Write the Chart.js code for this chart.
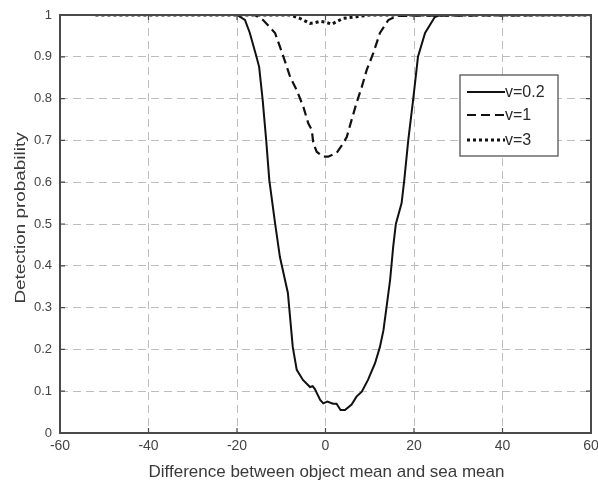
<!DOCTYPE html>
<html>
<head>
<meta charset="utf-8">
<script src="https://cdn.jsdelivr.net/npm/chart.js@4.4.1/dist/chart.umd.min.js"></script>
<style>
  html, body { margin: 0; padding: 0; background: #fff; }
  #wrap { width: 598px; height: 485px; position: relative; }
</style>
</head>
<body>
<div id="wrap"><canvas id="c" width="598" height="485"></canvas></div>
<script>
// ---- data ----
const seriesNames = ['v=0.2', 'v=1', 'v=3'];

const xV02 = [-52, -20, -19.8, -18.2, -17.1, -15.6, -15.0, -14.2, -13.4, -12.7, -11.4, -10.3, -9.8, -8.5, -8.2, -7.4, -6.5, -5.1, -3.5, -2.9, -2.4, -1.2, -0.5, 0.4, 1.7, 2.5, 3.4, 4.4, 5.9, 7.0, 8.2, 9.6, 11.2, 12.3, 13.1, 13.8, 14.6, 15.3, 15.9, 17.2, 17.8, 18.7, 19.8, 20.9, 22.5, 24.7, 26, 60];
const yV02 = [1, 1, 1.0, 0.988, 0.957, 0.90, 0.876, 0.797, 0.70, 0.605, 0.502, 0.421, 0.397, 0.335, 0.30, 0.206, 0.151, 0.127, 0.11, 0.112, 0.105, 0.079, 0.071, 0.075, 0.07, 0.07, 0.055, 0.055, 0.068, 0.087, 0.099, 0.127, 0.167, 0.206, 0.246, 0.302, 0.366, 0.446, 0.50, 0.55, 0.605, 0.70, 0.797, 0.90, 0.957, 0.995, 1, 1];

const xV1 = [-52, -16, -14.1, -11.4, -9.5, -8.0, -6.5, -5.0, -3.9, -3.1, -2.75, -2.0, -0.5, 0.6, 2.5, 4.0, 4.8, 5.9, 7.0, 8.2, 9.3, 10.8, 12.3, 14.2, 16.1, 60];
const yV1 = [1, 1, 0.988, 0.957, 0.90, 0.852, 0.82, 0.78, 0.741, 0.725, 0.693, 0.673, 0.661, 0.661, 0.67, 0.693, 0.708, 0.749, 0.789, 0.828, 0.868, 0.909, 0.957, 0.988, 0.998, 1];

const xV3 = [-52, -8, -5.8, -3.5, -2.3, -1.2, 0, 1.4, 2.5, 4.0, 7.0, 10, 60];
const yV3 = [1, 1, 0.992, 0.98, 0.982, 0.985, 0.983, 0.978, 0.984, 0.992, 0.996, 1, 1];

const xTickLabels = ['-60', '-40', '-20', '0', '20', '40', '60'];
const yTickLabels = ['0', '0.1', '0.2', '0.3', '0.4', '0.5', '0.6', '0.7', '0.8', '0.9', '1'];

const xTitle = 'Difference between object mean and sea mean';
const yTitle = 'Detection probability';
// --------------------------------------

const FONT = '"Liberation Sans", Arial, sans-serif';
const zip = (xs, ys) => xs.map((x, i) => ({ x: x, y: ys[i] }));

const titlesPlugin = {
  id: 'titles',
  afterDraw(chart) {
    const ctx = chart.ctx;
    const ca = chart.chartArea;
    ctx.save();
    ctx.fillStyle = '#3a3a3a';
    ctx.textAlign = 'center';
    ctx.textBaseline = 'middle';
    // x title
    ctx.font = '17px ' + FONT;
    ctx.fillText(xTitle, (ca.left + ca.right) / 2 + 1, 472);
    // y title (stretched along its length like the reference)
    ctx.translate(21, 218);
    ctx.rotate(-Math.PI / 2);
    ctx.scale(1.35, 1);
    ctx.font = '14px ' + FONT;
    ctx.fillText(yTitle, 0, 0);
    ctx.restore();
  }
};

const framePlugin = {
  id: 'frame',
  afterDatasetsDraw(chart) {
    const ctx = chart.ctx;
    const ca = chart.chartArea;
    const xs = chart.scales.x, ys = chart.scales.y;
    ctx.save();
    ctx.strokeStyle = '#4a4a4a';
    ctx.lineWidth = 1.2;
    const tl = 5;
    ctx.beginPath();
    xs.ticks.forEach(t => {
      const px = xs.getPixelForValue(t.value);
      ctx.moveTo(px, ca.bottom); ctx.lineTo(px, ca.bottom - tl);
      ctx.moveTo(px, ca.top); ctx.lineTo(px, ca.top + tl);
    });
    ys.ticks.forEach(t => {
      const py = ys.getPixelForValue(t.value);
      ctx.moveTo(ca.left, py); ctx.lineTo(ca.left + tl, py);
      ctx.moveTo(ca.right, py); ctx.lineTo(ca.right - tl, py);
    });
    ctx.stroke();
    ctx.lineWidth = 2;
    ctx.strokeRect(ca.left, ca.top, ca.right - ca.left, ca.bottom - ca.top);
    ctx.restore();
  }
};

const legendPlugin = {
  id: 'boxLegend',
  afterDraw(chart) {
    const ctx = chart.ctx;
    const bx = 460, by = 75, bw = 98, bh = 81;
    ctx.save();
    ctx.fillStyle = '#fff';
    ctx.fillRect(bx, by, bw, bh);
    ctx.strokeStyle = '#555';
    ctx.lineWidth = 1.3;
    ctx.strokeRect(bx, by, bw, bh);
    const rows = [92, 115, 140];
    chart.data.datasets.forEach((ds, i) => {
      const y = rows[i];
      ctx.save();
      ctx.strokeStyle = ds.borderColor;
      ctx.lineWidth = ds.borderWidth;
      ctx.setLineDash(ds.borderDash || []);
      ctx.beginPath();
      ctx.moveTo(467, y); ctx.lineTo(505, y);
      ctx.stroke();
      ctx.restore();
      ctx.fillStyle = '#2a2a2a';
      ctx.font = '16px ' + FONT;
      ctx.textAlign = 'left';
      ctx.textBaseline = 'middle';
      ctx.fillText(ds.label, 505, y + 1);
    });
    ctx.restore();
  }
};

new Chart(document.getElementById('c'), {
  type: 'line',
  data: {
    datasets: [
      { label: seriesNames[0], data: zip(xV02, yV02), borderColor: '#111', borderWidth: 2, borderDash: [], pointRadius: 0, tension: 0, order: 2 },
      { label: seriesNames[1], data: zip(xV1, yV1), borderColor: '#111', borderWidth: 2.2, borderDash: [9, 5], pointRadius: 0, tension: 0, order: 1 },
      { label: seriesNames[2], data: zip(xV3, yV3), borderColor: '#111', borderWidth: 3, borderDash: [3, 3], pointRadius: 0, tension: 0, order: 0 }
    ]
  },
  options: {
    responsive: false,
    animation: false,
    events: [],
    layout: { padding: { left: 0, top: 15, right: 7, bottom: 0 } },
    plugins: { legend: { display: false }, tooltip: { enabled: false } },
    scales: {
      x: {
        type: 'linear', min: -60, max: 60,
        ticks: {
          stepSize: 20, color: '#444', padding: 5,
          font: { family: FONT, size: 14 },
          maxRotation: 0,
          callback: (v, i) => xTickLabels[i]
        },
        grid: { color: '#bdbdbd', lineWidth: 1, drawTicks: false },
        border: { display: false, dash: [8, 5] },
        afterFit(s) { s.height = 52; s.paddingLeft = 0; s.paddingRight = 0; }
      },
      y: {
        type: 'linear', min: 0, max: 1,
        ticks: {
          stepSize: 0.1, color: '#444', padding: 8,
          font: { family: FONT, size: 13 },
          callback: (v, i) => yTickLabels[i]
        },
        grid: { color: '#bdbdbd', lineWidth: 1, drawTicks: false },
        border: { display: false, dash: [8, 5] },
        afterFit(s) { s.width = 60; s.paddingTop = 0; s.paddingBottom = 0; }
      }
    }
  },
  plugins: [framePlugin, legendPlugin, titlesPlugin]
});
</script>
</body>
</html>
